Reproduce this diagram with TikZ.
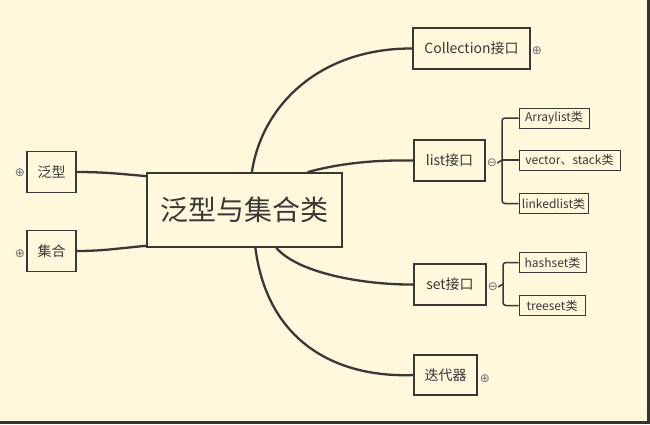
\documentclass[tikz,border=0pt]{standalone}
\usepackage{fontspec}
\setmainfont{Noto Sans CJK SC}
\newfontfamily\symfont{DejaVu Sans}
\usetikzlibrary{positioning}
\definecolor{paper}{RGB}{255,248,221}
\definecolor{ink}{RGB}{58,56,52}

\begin{document}
\begin{tikzpicture}[x=1pt,y=-1pt,
  root/.style={rectangle,draw=ink,line width=1.8pt,text=ink,inner sep=0pt,font=\fontsize{28}{28}\selectfont},
  topic/.style={rectangle,draw=ink,line width=1.1pt,text=ink,inner sep=0pt,minimum height=41pt,font=\fontsize{14}{14}\selectfont},
  leaf/.style={rectangle,draw=ink,line width=1pt,text=ink,inner sep=0pt,minimum height=20pt,font=\fontsize{12}{12}\selectfont},
  branch/.style={draw=ink,line width=2.3pt},
  twig/.style={draw=ink,line width=1.5pt,rounded corners=3pt},
  fold/.style={inner sep=0pt,text=black!55,font=\symfont\fontsize{12}{12}\selectfont}]
\fill[paper] (0,0) rectangle (650,424);
\useasboundingbox (0,0) rectangle (650,424);
\fill[black!80] (647,0) rectangle (650,424);
\fill[black!80] (0,421) rectangle (650,424);

\node[root,minimum width=195pt,minimum height=74pt] (jh) at (244.5,210) {泛型与集合类};

\node[topic,minimum width=49pt] (fx) at (51.5,172) {泛型};
\node[topic,minimum width=49pt] (jihe) at (51.5,251) {集合};
\node[fold] (fxf) at (20,173) {⊕};
\node[fold] (jihef) at (20,254) {⊕};

\node[topic,minimum width=117pt] (coll) at (471.5,48.5) {Collection接口};
\node[topic,minimum width=71pt] (list) at (449.5,160.5) {list接口};
\node[topic,minimum width=72pt] (set) at (450,284.5) {set接口};
\node[topic,minimum width=63pt,minimum height=40pt] (iter) at (445.5,375) {迭代器};
\node[fold] (collf) at (537,51) {⊕};
\node[fold] (listf) at (492,163) {⊖};
\node[fold] (setf) at (493,287) {⊖};
\node[fold] (iterf) at (485,379) {⊕};

\node[leaf,minimum width=70pt] (al) at (554,118) {Arraylist类};
\node[leaf,minimum width=101pt] (vs) at (569.5,160) {vector、stack类};
\node[leaf,minimum width=69pt] (ll) at (553.5,203.5) {linkedlist类};
\node[leaf,minimum width=67pt] (hs) at (552.5,262.5) {hashset类};
\node[leaf,minimum width=66pt] (ts) at (552,305.5) {treeset类};

\draw[branch] (fx.east) to[out=0,in=175] (jh.161);
\draw[branch] (jihe.east) to[out=0,in=185] (jh.200);
\draw[branch] (jh.79) .. controls (262,105) and (320,48) .. (coll.west);
\draw[branch] (jh.31) .. controls (345,162) and (380,160) .. (list.west);
\draw[branch] (jh.-50) .. controls (300,275) and (370,285) .. (set.west);
\draw[branch] (jh.-74) .. controls (268,345) and (340,378) .. (iter.west);

\coordinate (lj) at (502,160);
\coordinate (sj) at (503,284);
\draw[twig] (listf.east) -- (lj);
\draw[twig] (al.west) -| (lj) |- (ll.west);
\draw[twig] (lj) -- (vs.west);
\draw[twig] (setf.east) -- (sj);
\draw[twig] (hs.west) -| (sj) |- (ts.west);
\end{tikzpicture}
\end{document}
